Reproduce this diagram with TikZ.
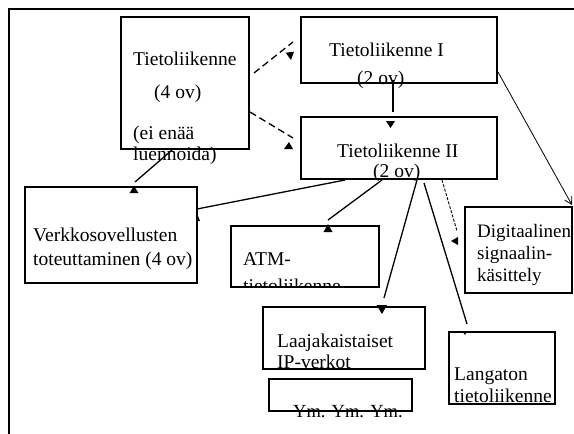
\documentclass[tikz,border=0pt]{standalone}
\usepackage{fontspec}
\setmainfont{Liberation Serif}
\usetikzlibrary{arrows.meta}
\begin{document}
\begin{tikzpicture}[x=1pt,y=-1pt,
  box/.style={draw=black,line width=1.5pt,anchor=north west,inner sep=0pt,outer sep=0pt},
  txt/.style={anchor=base west,inner sep=0pt,font=\fontsize{19.5}{22}\selectfont},
  conn/.style={draw=black,line width=1.3pt},
  dashconn/.style={draw=black,line width=1.3pt,dash pattern=on 7pt off 4pt},
  fineconn/.style={draw=black,line width=0.9pt,dash pattern=on 3pt off 1.5pt},
  thinconn/.style={draw=black,line width=0.8pt,-{Straight Barb[length=7pt,width=8pt,line width=0.8pt]}},
  tri/.style={fill=black}]
\useasboundingbox (0,0) rectangle (574,434);
% frame
\coordinate (f1) at (9,434);
\coordinate (f2) at (9,9);
\coordinate (f3) at (574,9);
\draw[line width=1.5pt] (f1) -- (f2) -- (f3);

% boxes
\node[box,minimum width=128pt,minimum height=132pt] (A) at (121,17) {};
\node[box,minimum width=196pt,minimum height=66pt] (B) at (301,17) {};
\node[box,minimum width=196pt,minimum height=62pt] (C) at (301,117) {};
\node[box,minimum width=172pt,minimum height=96pt] (D) at (25,187) {};
\node[box,minimum width=148pt,minimum height=61pt] (E) at (231,226) {};
\node[box,minimum width=162pt,minimum height=62pt] (F) at (263,307) {};
\node[box,minimum width=143pt,minimum height=32pt] (G) at (269,379) {};
\node[box,minimum width=107pt,minimum height=86pt] (H) at (465,207) {};
\node[box,minimum width=106pt,minimum height=72pt] (I) at (449,332) {};

% texts
\node[txt] (A1) at (133,65) {Tietoliikenne};
\node[txt] (A2) at (154,98) {(4 ov)};
\node[txt] (A3) at (133,139) {(ei enää};
\node[txt] (A4) at (133,160) {luennoida)};
\node[txt] (B1) at (329,56) {Tietoliikenne I};
\node[txt] (B2) at (357,84) {(2 ov)};
\node[txt] (C1) at (337,157) {Tietoliikenne II};
\node[txt] (C2) at (373,177) {(2 ov)};
\node[txt] (D1) at (33,241) {Verkkosovellusten};
\node[txt] (D2) at (33,265) {toteuttaminen (4 ov)};
\begin{scope}
\clip (231,226) rectangle (379,287);
\node[txt] (E1) at (243,265) {ATM-};
\node[txt] (E2) at (243,292) {tietoliikenne};
\end{scope}
\node[txt] (F1) at (277,347) {Laajakaistaiset};
\node[txt] (F2) at (277,368) {IP-verkot};
\node[txt,font=\fontsize{18.5}{22}\selectfont] (G1) at (293,417) {Ym. Ym. Ym.};
\node[txt,font=\fontsize{19}{22}\selectfont] (H1) at (477,237) {Digitaalinen};
\node[txt,font=\fontsize{19}{22}\selectfont] (H2) at (477,259) {signaalin-};
\node[txt,font=\fontsize{19}{22}\selectfont] (H3) at (477,281) {käsittely};
\node[txt] (I1) at (454,380) {Langaton};
\node[txt] (I2) at (454,402) {tietoliikenne};

% connectors
\coordinate (ab1) at (254,73);  \coordinate (ab2) at (293,42);
\draw[dashconn] (ab1) -- (ab2);
\fill[tri] (285.7,52.7) -- (294,51.7) -- (291,60) -- cycle;

\coordinate (ac1) at (250,112); \coordinate (ac2) at (293,138);
\draw[dashconn] (ac1) -- (ac2);
\fill[tri] (289,142) -- (284,149) -- (293,149) -- cycle;

\coordinate (bc1) at (393,80); \coordinate (bc2) at (393,112);
\draw[conn] (bc1) -- (bc2);
\fill[tri] (386,121) -- (395,121) -- (390.5,128) -- cycle;

\coordinate (ad1) at (172,150); \coordinate (ad2) at (135,182);
\draw[conn] (ad1) -- (ad2);
\fill[tri] (134,186) -- (129.5,193) -- (138.5,193) -- cycle;

\coordinate (cd1) at (345,180); \coordinate (cd2) at (197,209);
\draw[conn] (cd1) -- (cd2);
\fill[tri] (198,216) -- (196,221) -- (200,221) -- cycle;

\coordinate (ce1) at (382,180); \coordinate (ce2) at (328,220);
\draw[conn] (ce1) -- (ce2);
\fill[tri] (328,224) -- (323.5,232) -- (332.5,232) -- cycle;

\coordinate (cf1) at (417,180); \coordinate (cf2) at (384,298);
\draw[conn] (cf1) -- (cf2);
\fill[tri] (376.5,305) -- (387,305) -- (382,314) -- cycle;

\coordinate (ci1) at (424,183); \coordinate (ci2) at (467,324);
\draw[conn] (ci1) -- (ci2);
\fill[tri] (462,331) -- (467,331) -- (465,335) -- cycle;

\coordinate (ch1) at (442,180); \coordinate (ch2) at (457,231);
\draw[fineconn] (ch1) -- (ch2);
\fill[tri] (451,241) -- (458,237) -- (458,245) -- cycle;

\coordinate (bh1) at (498,72); \coordinate (bh2) at (572,205);
\draw[thinconn] (bh1) -- (bh2);
\end{tikzpicture}
\end{document}
